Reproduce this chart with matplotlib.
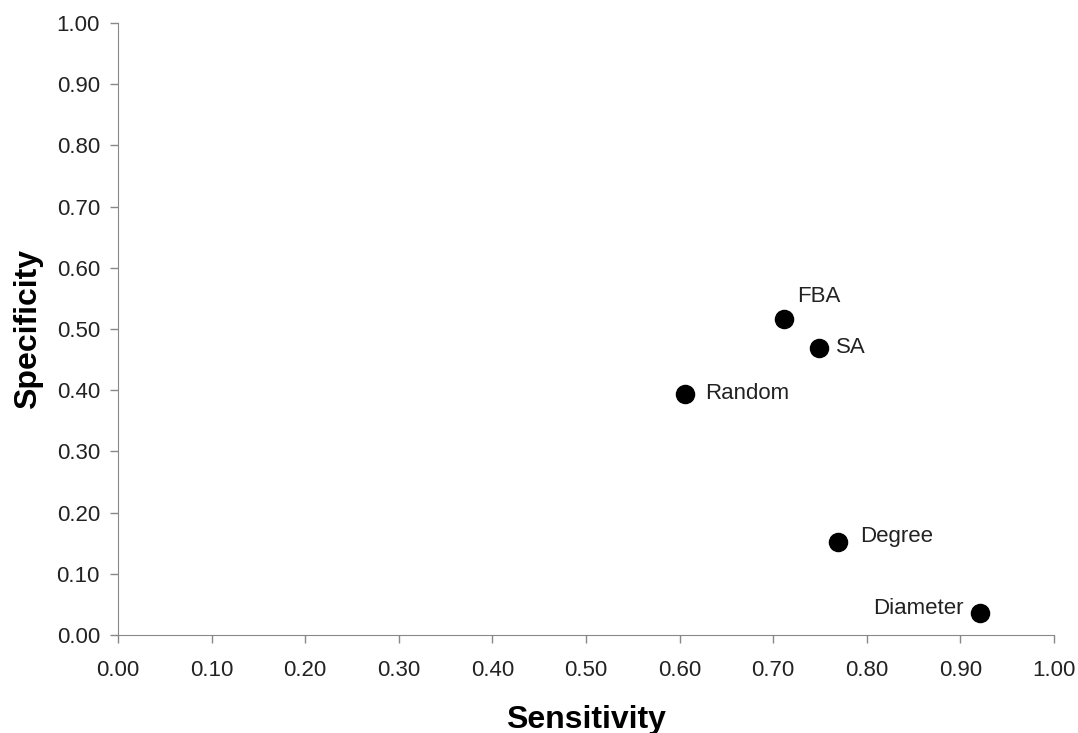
import matplotlib.pyplot as plt
import numpy as np

plt.rcParams['font.family'] = ['Liberation Sans', 'DejaVu Sans']

# values
methods = ['FBA', 'SA', 'Random', 'Degree', 'Diameter']
sensitivity = [0.712, 0.749, 0.606, 0.769, 0.921]
specificity = [0.516, 0.469, 0.394, 0.152, 0.036]
# where each label sits relative to its point (points)
offsets = {'FBA': (9, 16, 'left'), 'SA': (12, 0, 'left'), 'Random': (14, 0, 'left'),
           'Degree': (16, 4, 'left'), 'Diameter': (-12, 3, 'right')}

fig = plt.figure(figsize=(10.78, 7.33), dpi=100)
ax = fig.add_axes([0.1095, 0.1337, 0.8682, 0.8349])

ax.scatter(sensitivity, specificity, s=170, color='black', zorder=3, clip_on=False)
for m, x, y in zip(methods, sensitivity, specificity):
    dx, dy, ha = offsets[m]
    ax.annotate(m, (x, y), xytext=(dx, dy), textcoords='offset points',
                ha=ha, va='center', fontsize=16, color='#222222')

ticks = np.arange(0, 1.01, 0.1)
ax.set_xlim(0, 1)
ax.set_ylim(0, 1)
ax.set_xticks(ticks)
ax.set_yticks(ticks)
ax.set_xticklabels(['%.2f' % t for t in ticks])
ax.set_yticklabels(['%.2f' % t for t in ticks])
ax.tick_params(direction='out', length=6, width=1, color='#888888',
               labelsize=16, labelcolor='#222222')
ax.tick_params(axis='x', pad=12)
ax.tick_params(axis='y', pad=7)
for side in ['top', 'right']:
    ax.spines[side].set_visible(False)
for side in ['left', 'bottom']:
    ax.spines[side].set_color('#888888')

ax.set_xlabel('Sensitivity', fontsize=23, fontweight='bold', labelpad=17)
ax.set_ylabel('Specificity', fontsize=23, fontweight='bold', labelpad=10)

fig.savefig('out.png', dpi=100)
